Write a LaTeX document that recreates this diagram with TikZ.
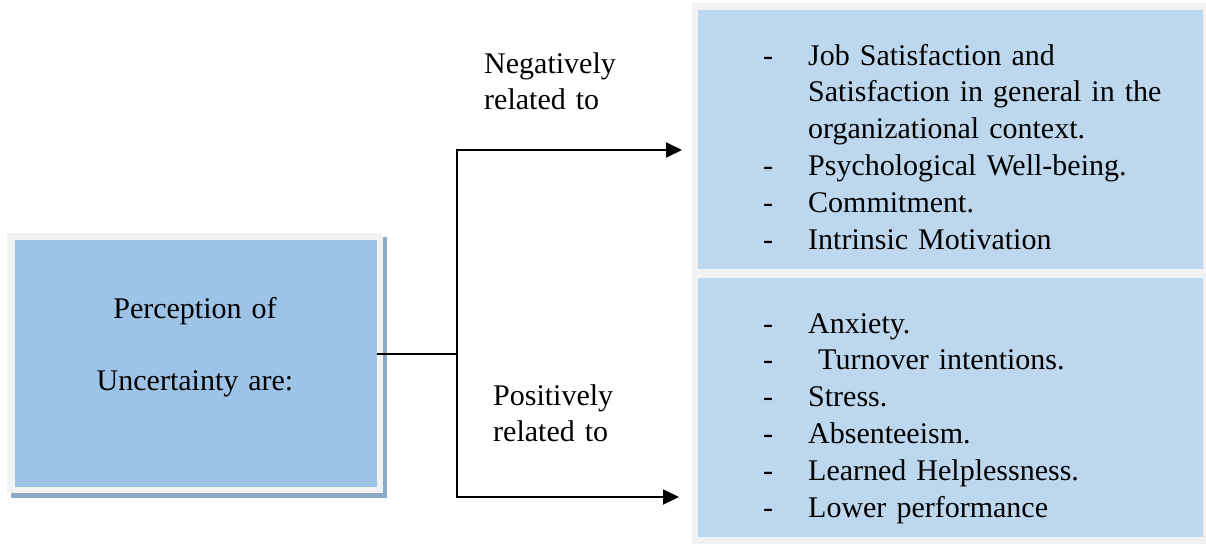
\documentclass[tikz,border=0pt]{standalone}
\usepackage{fontspec}
\setmainfont{Liberation Serif}
\usetikzlibrary{arrows.meta}
\definecolor{boxblue}{HTML}{9DC3E6}
\definecolor{listblue}{HTML}{BDD7EE}
\definecolor{framegray}{HTML}{F2F2F2}
\definecolor{shadowblue}{HTML}{8EA9C8}
\newcommand{\itm}[1]{\makebox[45pt][l]{-}#1}
\newcommand{\cont}[1]{\hspace*{45pt}#1}
\begin{document}
\begin{tikzpicture}[x=1pt,y=-1pt,
	every node/.style={font=\fontsize{30}{36.8}\selectfont},
	listtext/.style={anchor=base west,inner sep=0pt,text width=440pt,align=left},
	conn/.style={line width=1.9pt},
	arr/.style={conn,-{Triangle[length=16pt,width=15pt]}}]
	\useasboundingbox (0,0) rectangle (1206,544);
	
	% left box with frame and shadow
	\fill[shadowblue] (11,237) rectangle (387,498);
	\fill[framegray] (7,233) rectangle (383,493);
	\node[fill=boxblue,minimum width=362pt,minimum height=247pt,inner sep=0pt] (percep) at (196,363.5) {};
	\node[anchor=base,inner sep=0pt,text width=362pt,align=center,font=\fontsize{30}{72}\selectfont] (perceptext) at (195,318) {Perception of\\Uncertainty are:};
	
	% right boxes
	\fill[framegray] (692,3) rectangle (1206,544);
	\node[fill=listblue,minimum width=505pt,minimum height=259pt,inner sep=0pt,anchor=north west] (negbox) at (698,10) {};
	\node[fill=listblue,minimum width=505pt,minimum height=259pt,inner sep=0pt,anchor=north west] (posbox) at (698,278) {};
	
	\node[listtext] (neglist) at (763,65) {\itm{Job Satisfaction and}\\
		\cont{Satisfaction in general in the}\\
		\cont{organizational context.}\\
		\itm{Psychological Well-being.}\\
		\itm{Commitment.}\\
		\itm{Intrinsic Motivation}};
	\node[listtext] (poslist) at (763,333) {\itm{Anxiety.}\\
		\itm{\ Turnover intentions.}\\
		\itm{Stress.}\\
		\itm{Absenteeism.}\\
		\itm{Learned Helplessness.}\\
		\itm{Lower performance}};
	
	% labels
	\node[anchor=base west,inner sep=0pt,text width=200pt,align=left] (neglabel) at (484,73) {Negatively\\related to};
	\node[anchor=base west,inner sep=0pt,text width=200pt,align=left] (poslabel) at (493,405) {Positively\\related to};
	
	% connectors
	\coordinate (split) at (457,354);
	\coordinate (negend) at (682,150);
	\coordinate (posend) at (679,497);
	\draw[conn] (percep.east |- split) -- (split);
	\draw[arr] (split) |- (negend);
	\draw[arr] (split) |- (posend);
\end{tikzpicture}
\end{document}
